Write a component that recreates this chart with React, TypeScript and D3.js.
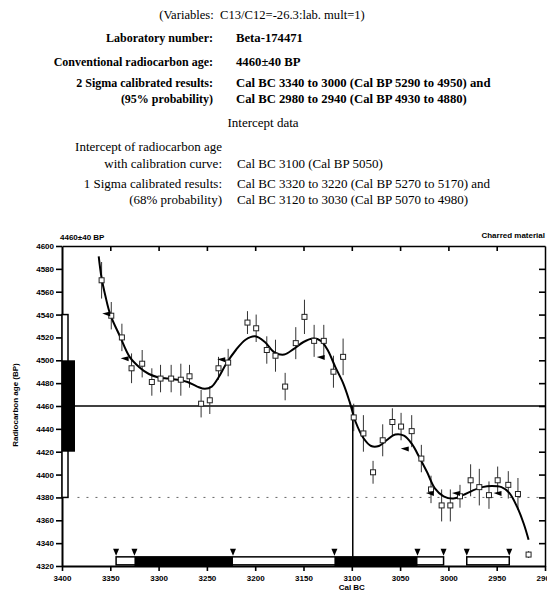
// Radiocarbon calibration plot (Beta-174471) drawn with D3
import React, { useEffect, useRef } from 'react';
import * as d3 from 'd3';

// calibration curve (Cal BC year, radiocarbon age BP)
const curveYears = [3362, 3359, 3355, 3350, 3340, 3330, 3320, 3310, 3300, 3290, 3280, 3270, 3260, 3252, 3245, 3238, 3230, 3220, 3210, 3200, 3190, 3180, 3170, 3160, 3150, 3140, 3132, 3125, 3117, 3109, 3102, 3096, 3088, 3080, 3072, 3064, 3055, 3046, 3038, 3030, 3022, 3014, 3005, 2995, 2985, 2975, 2965, 2955, 2945, 2937, 2929, 2922, 2917];
const curveAges = [4591, 4572, 4556, 4540, 4521, 4503, 4494, 4488, 4485, 4484, 4483, 4481, 4477, 4475, 4477, 4485, 4497, 4509, 4518, 4521, 4516, 4507, 4505, 4510, 4516, 4519, 4517, 4509, 4494, 4480, 4463, 4446, 4432, 4425, 4425, 4430, 4435, 4434, 4427, 4415, 4402, 4388, 4381, 4379, 4382, 4386, 4389, 4390, 4389, 4384, 4372, 4357, 4343];

// decadal measurements with error bars
const sampleYears = [3359, 3349, 3338, 3328, 3317, 3307, 3298, 3287, 3277, 3268, 3256, 3247, 3238, 3228, 3208, 3199, 3188, 3179, 3169, 3158, 3149, 3139, 3129, 3119, 3109, 3098, 3088, 3078, 3068, 3058, 3049, 3038, 3028, 3018, 3007, 2998, 2988, 2977, 2968, 2958, 2949, 2938, 2928, 2917];
const sampleAges = [4570, 4539, 4520, 4493, 4497, 4481, 4484, 4484, 4483, 4486, 4462, 4465, 4493, 4498, 4533, 4528, 4509, 4504, 4477, 4515, 4538, 4517, 4517, 4490, 4503, 4450, 4436, 4402, 4430, 4446, 4442, 4438, 4414, 4387, 4373, 4373, 4381, 4395, 4389, 4382, 4395, 4391, 4383, 4330];
const sampleErrors = [16, 12, 12, 13, 12, 12, 12, 12, 14, 10, 12, 12, 10, 12, 10, 12, 12, 14, 12, 14, 15, 14, 14, 14, 16, 12, 16, 10, 14, 12, 12, 14, 12, 12, 14, 14, 10, 14, 16, 12, 12, 12, 14, 3];

// small flags on the curve
const flagYears = [3349, 3330, 3230, 3127, 3040, 3014, 2987, 2944];
const flagAges = [4540, 4501, 4500, 4502, 4422, 4383, 4383, 4383];

const twoSigmaRanges = [[3344, 3005], [2981, 2937]];
const oneSigmaRanges = [[3325, 3223], [3118, 3032]];
const measuredAge = 4460;
const measuredError = 40;
const interceptYear = 3099;

const xTicks = [3400, 3350, 3300, 3250, 3200, 3150, 3100, 3050, 3000, 2950, 2900];
const yTicks = [4320, 4340, 4360, 4380, 4400, 4420, 4440, 4460, 4480, 4500, 4520, 4540, 4560, 4580, 4600];

const headerLabels = ['Laboratory number:', 'Conventional radiocarbon age:', '2 Sigma calibrated results:', '(95% probability)'];
const headerValues = ['Beta-174471', '4460±40 BP', 'Cal BC 3340 to 3000 (Cal BP 5290 to 4950) and', 'Cal BC 2980 to 2940 (Cal BP 4930 to 4880)'];
const headerY = [42, 66, 87, 103];
const interceptLabels = ['Intercept of radiocarbon age', 'with calibration curve:', '1 Sigma calibrated results:', '(68% probability)'];
const interceptValues = ['', 'Cal BC 3100 (Cal BP 5050)', 'Cal BC 3320 to 3220 (Cal BP 5270 to 5170) and', 'Cal BC 3120 to 3030 (Cal BP 5070 to 4980)'];
const interceptY = [151, 168, 188, 204];

const serif = '"Liberation Serif", "Times New Roman", serif';
const sans = '"Liberation Sans", Arial, sans-serif';

const App: React.FC = () => {
  const ref = useRef<SVGSVGElement>(null);

  useEffect(() => {
    if (!ref.current) return;
    const svg = d3.select(ref.current);
    svg.selectAll('*').remove();

    const width = 547;
    const height = 591;
    svg.attr('width', width).attr('height', height);

    // ---- header text ----
    svg.append('text')
      .attr('x', 262).attr('y', 19)
      .attr('text-anchor', 'middle')
      .style('font-family', serif).style('font-size', '12.6px')
      .style('white-space', 'pre')
      .text('(Variables:  C13/C12=-26.3:lab. mult=1)');

    headerLabels.forEach((lbl, i) => {
      svg.append('text')
        .attr('x', 213).attr('y', headerY[i])
        .attr('text-anchor', 'end')
        .style('font-family', serif).style('font-size', '12px').style('font-weight', 'bold')
        .text(lbl);
      svg.append('text')
        .attr('x', 236).attr('y', headerY[i])
        .style('font-family', serif).style('font-size', '12.7px').style('font-weight', 'bold')
        .text(headerValues[i]);
    });

    svg.append('text')
      .attr('x', 263).attr('y', 127)
      .attr('text-anchor', 'middle')
      .style('font-family', serif).style('font-size', '13px')
      .text('Intercept data');

    interceptLabels.forEach((lbl, i) => {
      svg.append('text')
        .attr('x', 222).attr('y', interceptY[i])
        .attr('text-anchor', 'end')
        .style('font-family', serif).style('font-size', '13px')
        .text(lbl);
      svg.append('text')
        .attr('x', 237).attr('y', interceptY[i])
        .style('font-family', serif).style('font-size', '13px')
        .text(interceptValues[i]);
    });

    // ---- chart ----
    const x = d3.scaleLinear().domain([3400, 2900]).range([62, 545]);
    const y = d3.scaleLinear().domain([4320, 4600]).range([566, 246]);
    const g = svg.append('g');

    const styleAxis = (sel: d3.Selection<SVGGElement, unknown, null, undefined>) => {
      sel.selectAll('path').attr('stroke', '#000').attr('stroke-width', 2);
      sel.selectAll('line').attr('stroke', '#000').attr('stroke-width', 1.6);
      sel.selectAll('text')
        .attr('fill', '#000')
        .style('font-family', sans).style('font-size', '8px').style('font-weight', 'bold');
    };

    g.append('g')
      .attr('transform', `translate(${x(3400)},0)`)
      .call(d3.axisLeft(y).tickValues(yTicks).tickSize(6).tickSizeOuter(0).tickPadding(2).tickFormat(d3.format('d')))
      .call(styleAxis);

    g.append('g')
      .attr('transform', `translate(0,${y(4320)})`)
      .call(d3.axisBottom(x).tickValues(xTicks).tickSize(5).tickSizeOuter(0).tickPadding(4).tickFormat(d3.format('d')))
      .call(styleAxis);

    g.append('g')
      .attr('transform', `translate(0,${y(4600)})`)
      .call(d3.axisTop(x).tickValues(xTicks.slice(1, -1)).tickSize(-5).tickSizeOuter(0).tickFormat(() => ''))
      .call(styleAxis)
      .selectAll('path').attr('stroke-width', 1.5);

    g.append('g')
      .attr('transform', `translate(${x(2900)},0)`)
      .call(d3.axisRight(y).tickValues(yTicks.slice(1, -1)).tickSize(-6).tickSizeOuter(0).tickFormat(() => ''))
      .call(styleAxis)
      .selectAll('path').attr('stroke-width', 1.5);

    // measured age line and 2 sigma dotted line
    g.append('line')
      .attr('x1', x(3400)).attr('x2', x(2900))
      .attr('y1', y(measuredAge)).attr('y2', y(measuredAge))
      .attr('stroke', '#000').attr('stroke-width', 1.5);

    g.append('line')
      .attr('x1', x(3384)).attr('x2', x(2900))
      .attr('y1', y(measuredAge - 2 * measuredError)).attr('y2', y(measuredAge - 2 * measuredError))
      .attr('stroke', '#666').attr('stroke-width', 1).attr('stroke-dasharray', '2,7');

    // intercept vertical line
    g.append('line')
      .attr('x1', x(interceptYear)).attr('x2', x(interceptYear))
      .attr('y1', y(measuredAge)).attr('y2', y(4320))
      .attr('stroke', '#000').attr('stroke-width', 1.5);

    // left age bars
    g.append('rect')
      .attr('x', x(3400)).attr('width', 6)
      .attr('y', y(measuredAge + 2 * measuredError))
      .attr('height', y(measuredAge - 2 * measuredError) - y(measuredAge + 2 * measuredError))
      .attr('fill', '#fff').attr('stroke', '#000').attr('stroke-width', 1.5);
    g.append('rect')
      .attr('x', x(3400)).attr('width', 13)
      .attr('y', y(measuredAge + measuredError))
      .attr('height', y(measuredAge - measuredError) - y(measuredAge + measuredError))
      .attr('fill', '#000');

    // bottom calendar bars
    const barTop = y(4328);
    twoSigmaRanges.forEach(([a, b]) => {
      g.append('rect')
        .attr('x', x(a)).attr('width', x(b) - x(a))
        .attr('y', barTop).attr('height', y(4321) - barTop)
        .attr('fill', '#fff').attr('stroke', '#000').attr('stroke-width', 1.5);
    });
    oneSigmaRanges.forEach(([a, b]) => {
      g.append('rect')
        .attr('x', x(a)).attr('width', x(b) - x(a))
        .attr('y', barTop).attr('height', y(4320) - barTop)
        .attr('fill', '#000');
    });
    const ends = [...twoSigmaRanges, ...oneSigmaRanges].flat();
    g.selectAll('.tri')
      .data(ends)
      .enter()
      .append('path')
      .attr('class', 'tri')
      .attr('d', d => `M${x(d) - 3},${barTop - 8} L${x(d) + 3},${barTop - 8} L${x(d)},${barTop - 1} Z`)
      .attr('fill', '#000');

    // error bars and squares
    const samples = sampleYears.map((yr, i) => ({ yr, age: sampleAges[i], err: sampleErrors[i] }));
    g.selectAll('.err')
      .data(samples)
      .enter()
      .append('line')
      .attr('class', 'err')
      .attr('x1', d => x(d.yr)).attr('x2', d => x(d.yr))
      .attr('y1', d => y(d.age + d.err)).attr('y2', d => y(d.age - d.err))
      .attr('stroke', '#333').attr('stroke-width', 1);

    // calibration curve
    const line = d3.line<number>()
      .x((_, i) => x(curveYears[i]))
      .y(d => y(d))
      .curve(d3.curveCatmullRom);
    g.append('path')
      .datum(curveAges)
      .attr('fill', 'none')
      .attr('stroke', '#000')
      .attr('stroke-width', 2)
      .attr('d', line);

    g.selectAll('.sq')
      .data(samples)
      .enter()
      .append('rect')
      .attr('class', 'sq')
      .attr('x', d => x(d.yr) - 2.5).attr('y', d => y(d.age) - 2.5)
      .attr('width', 5).attr('height', 5)
      .attr('fill', '#fff').attr('stroke', '#222').attr('stroke-width', 1);

    // flags
    g.selectAll('.flag')
      .data(flagYears)
      .enter()
      .append('path')
      .attr('class', 'flag')
      .attr('d', (d, i) => {
        const cx = x(d); const cy = y(flagAges[i]);
        return `M${cx - 9},${cy - 1} L${cx - 1},${cy - 3} L${cx - 1},${cy + 2} Z`;
      })
      .attr('fill', '#000');

    // titles
    g.append('text')
      .attr('x', 60).attr('y', 240)
      .style('font-family', sans).style('font-size', '8px').style('font-weight', 'bold')
      .text('4460±40 BP');
    g.append('text')
      .attr('x', 545).attr('y', 238)
      .attr('text-anchor', 'end')
      .style('font-family', sans).style('font-size', '8px').style('font-weight', 'bold')
      .text('Charred material');
    g.append('text')
      .attr('transform', 'translate(18,405) rotate(-90)')
      .attr('text-anchor', 'middle')
      .style('font-family', sans).style('font-size', '8px').style('font-weight', 'bold')
      .text('Radiocarbon age (BP)');
    g.append('text')
      .attr('x', x(3100)).attr('y', 590)
      .attr('text-anchor', 'middle')
      .style('font-family', sans).style('font-size', '8px').style('font-weight', 'bold')
      .text('Cal BC');
  }, []);

  return (
    <div style={{ position: 'absolute', left: 0, top: 0, background: '#fff' }}>
      <svg ref={ref} style={{ display: 'block' }}></svg>
    </div>
  );
};

export default App;
